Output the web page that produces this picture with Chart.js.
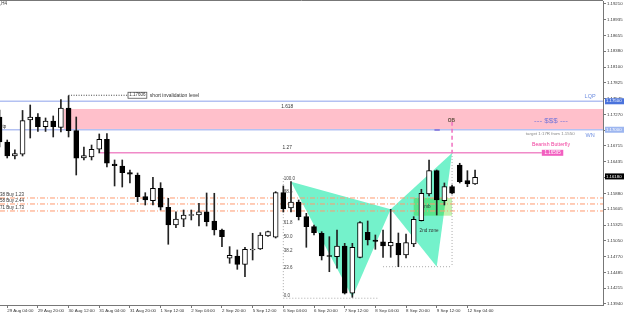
<!DOCTYPE html>
<html>
<head>
<meta charset="utf-8">
<title>H4 Bearish Butterfly</title>
<script src="https://cdn.jsdelivr.net/npm/chart.js@4.4.1/dist/chart.umd.min.js"></script>
<style>
  html, body { margin: 0; padding: 0; background: #fff; }
  canvas { display: block; }
</style>
</head>
<body>
<canvas id="priceChart" width="625" height="316"></canvas>
<script>
// H4 bar slots, 0 = 29 Aug 04:00
const slots = [-1, 0, 1, 2, 3, 4, 5, 6, 7, 8, 9, 10, 11, 12, 13, 14, 15, 16, 17, 18, 19, 20,
  21, 22, 23, 24, 25, 26, 27, 28, 29, 30, 31, 32, 33, 34, 35, 36, 37, 38, 39, 40,
  41, 42, 43, 44, 45, 46, 47, 48, 49, 50, 51, 52, 53, 54, 55, 56, 57, 58, 59, 60, 61];

const opens = [1.17224, 1.16785, 1.16539, 1.16569, 1.17172, 1.17224, 1.17054, 1.17154, 1.17040, 1.17382,
  1.16984, 1.16504, 1.16522, 1.16657, 1.16833, 1.16399, 1.16363, 1.16246, 1.16205, 1.15824,
  1.15754, 1.15972, 1.15638, 1.15327, 1.15427, 1.15494, 1.15502, 1.15560, 1.15397, 1.15239,
  1.14742, 1.14782, 1.14636, 1.14888, 1.14905, 1.15134, 1.15111, 1.15894, 1.15625, 1.15731,
  1.15473, 1.15297, 1.15181, 1.14791, 1.14770, 1.14958, 1.14127, 1.14759, 1.15199, 1.15063,
  1.15033, 1.14958, 1.15005, 1.14800, 1.14993, 1.15402, 1.15871, 1.16281, 1.15754, 1.16000,
  1.16381, 1.16105, 1.16047];
const highs = [1.17347, 1.16820, 1.16645, 1.17339, 1.17435, 1.17286, 1.17207, 1.17242, 1.17532, 1.17593,
  1.17224, 1.16697, 1.16732, 1.16926, 1.16934, 1.16469, 1.16469, 1.16293, 1.16240, 1.15894,
  1.16165, 1.16070, 1.15796, 1.15560, 1.15590, 1.15590, 1.15708, 1.15889, 1.15884, 1.15257,
  1.14946, 1.14888, 1.14935, 1.15181, 1.15192, 1.15221, 1.15912, 1.16012, 1.16088, 1.15766,
  1.15532, 1.15327, 1.15209, 1.15121, 1.15239, 1.15005, 1.15005, 1.15385, 1.15397, 1.15151,
  1.15239, 1.15603, 1.15186, 1.15169, 1.15473, 1.15954, 1.16469, 1.16293, 1.16065, 1.16030,
  1.16411, 1.16281, 1.16293];
const lows = [1.16697, 1.16504, 1.16486, 1.16539, 1.16855, 1.16970, 1.16970, 1.16873, 1.16961, 1.16873,
  1.16205, 1.16469, 1.16469, 1.16592, 1.16346, 1.16012, 1.15994, 1.16065, 1.15736, 1.15678,
  1.15678, 1.15590, 1.14988, 1.15279, 1.15297, 1.15415, 1.15309, 1.15309, 1.15151, 1.14946,
  1.14654, 1.14548, 1.14418, 1.14712, 1.14896, 1.15125, 1.15098, 1.15555, 1.15555, 1.15415,
  1.14935, 1.15151, 1.14712, 1.14506, 1.14566, 1.14114, 1.14056, 1.14747, 1.14975, 1.14900,
  1.14759, 1.14759, 1.14594, 1.14747, 1.14946, 1.15397, 1.15836, 1.15502, 1.15678, 1.15871,
  1.16065, 1.16000, 1.16038];
const closes = [1.16785, 1.16539, 1.16583, 1.17159, 1.17224, 1.17054, 1.17154, 1.17054, 1.17382, 1.16984,
  1.16499, 1.16548, 1.16657, 1.16833, 1.16411, 1.16369, 1.16246, 1.16218, 1.15824, 1.15766,
  1.15972, 1.15638, 1.15327, 1.15432, 1.15502, 1.15511, 1.15560, 1.15385, 1.15239, 1.15121,
  1.14794, 1.14636, 1.14900, 1.14905, 1.15151, 1.15209, 1.15894, 1.15608, 1.15731, 1.15473,
  1.15297, 1.15192, 1.14782, 1.14773, 1.14958, 1.14127, 1.14935, 1.15367, 1.15063, 1.15040,
  1.14958, 1.15023, 1.14800, 1.15016, 1.15427, 1.15884, 1.16281, 1.15766, 1.16000, 1.15884,
  1.16088, 1.16047, 1.16165];

const timeTickSlots = [0, 4, 8, 12, 16, 20, 24, 28, 32, 36, 40, 44, 48, 52, 56, 60];
const timeTickLabels = ['29 Aug 04:00', '29 Aug 20:00', '30 Aug 12:00', '31 Aug 04:00', '31 Aug 20:00',
  '1 Sep 12:00', '2 Sep 04:00', '2 Sep 20:00', '5 Sep 12:00', '6 Sep 04:00', '6 Sep 20:00',
  '7 Sep 12:00', '8 Sep 04:00', '8 Sep 20:00', '9 Sep 12:00', '12 Sep 04:00'];

const priceTicks = [1.19210, 1.18935, 1.18655, 1.18380, 1.18100, 1.17825, 1.17545, 1.17270, 1.16990,
  1.16715, 1.16435, 1.16155, 1.15880, 1.15605, 1.15325, 1.15050, 1.14770, 1.14485, 1.14215, 1.13940];

// levels drawn on the chart
const lqpLevel = 1.17500;
const wnLevel = 1.17000;
const lastPrice = 1.16180;
const invalidationLevel = 1.17606;
const targetLevel = 1.16595;
const buyLevels = [1.15801, 1.15696, 1.15573];
const buyLabels = ['38 Buy 1.23', '58 Buy 2.44', '71 Buy 1.73'];
const fibRatios = [100.0, 88.6, 61.8, 50.0, 38.2, 23.6, 0.0];

const FONT = 'Liberation Sans';

const wickData = slots.map((s, i) => ({ x: s, y: [lows[i], highs[i]] }));
const bodyData = slots.map((s, i) => ({ x: s, y: [opens[i], closes[i]] }));
const bodyColors = slots.map((s, i) => closes[i] >= opens[i] ? '#ffffff' : '#000000');

function line(ctx, x0, y0, x1, y1, color, width, dash) {
    ctx.save();
    ctx.strokeStyle = color;
    ctx.lineWidth = width;
    ctx.setLineDash(dash || []);
    ctx.beginPath();
    ctx.moveTo(x0, y0);
    ctx.lineTo(x1, y1);
    ctx.stroke();
    ctx.restore();
}

function label(ctx, str, xx, yy, color, size, align, bold) {
    ctx.save();
    ctx.fillStyle = color;
    ctx.font = (bold ? 'bold ' : '') + size + 'px "' + FONT + '"';
    ctx.textAlign = align || 'center';
    ctx.textBaseline = 'middle';
    ctx.fillText(str, xx, yy);
    ctx.restore();
}

const overlay = {
    id: 'overlay',
    beforeDatasetsDraw(chart) {
        const { ctx, chartArea: a, scales: { x, y } } = chart;
        const X = v => x.getPixelForValue(v);
        const Y = v => y.getPixelForValue(v);
        ctx.save();
        ctx.beginPath();
        ctx.rect(a.left, a.top, a.width, a.height);
        ctx.clip();

        // supply zone
        ctx.fillStyle = '#ffc0cb';
        ctx.fillRect(X(7.4), Y(1.17365), a.right - X(7.4), Y(1.17014) - Y(1.17365));

        // butterfly legs X-A-B and B-C-D
        ctx.fillStyle = '#74f2cb';
        ctx.beginPath();
        ctx.moveTo(X(37), Y(1.16088));
        ctx.lineTo(X(45), Y(1.14056));
        ctx.lineTo(X(50), Y(1.15603));
        ctx.closePath();
        ctx.fill();
        ctx.beginPath();
        ctx.moveTo(X(50), Y(1.15603));
        ctx.lineTo(X(56), Y(1.14594));
        ctx.lineTo(X(58), Y(1.16592));
        ctx.closePath();
        ctx.fill();

        // imbalance box
        ctx.save();
        ctx.globalCompositeOperation = 'multiply';
        ctx.fillStyle = '#c3f3b0';
        ctx.fillRect(X(53.0), Y(1.15801), X(58.0) - X(53.0), Y(1.15490) - Y(1.15801));
        ctx.restore();

        // LQP / WN lines
        line(ctx, a.left, Y(lqpLevel), a.right, Y(lqpLevel), '#b3c1f2', 1.5);
        line(ctx, a.left, Y(wnLevel), a.right, Y(wnLevel), '#b3c1f2', 1.5);

        // 1.27 target line
        line(ctx, X(12.1), Y(targetLevel), X(69.7), Y(targetLevel), '#f08ac8', 1.5);

        // buy levels
        buyLevels.forEach(v => line(ctx, a.left, Y(v), a.right, Y(v), '#ff9a70', 1, [5, 2, 1, 2]));

        // fib grid
        const fibTop = 1.16100, fibBottom = 1.14040;
        line(ctx, X(36), Y(1.16150), X(36), Y(fibBottom), '#aaa', 1, [1, 2]);
        line(ctx, X(36), Y(fibBottom), X(48.4), Y(fibBottom), '#aaa', 1, [1, 2]);
        line(ctx, X(49), Y(1.14594), X(58), Y(1.14594), '#aaa', 1, [1, 2]);
        line(ctx, X(58), Y(1.16592), X(58), Y(1.14594), '#aaa', 1, [1, 2]);

        // short invalidation
        line(ctx, X(8), Y(invalidationLevel), X(15.75), Y(invalidationLevel), '#444', 1, [1, 1.5]);
        line(ctx, X(8), Y(invalidationLevel), X(8), Y(1.17400), '#444', 1, [1, 1.5]);

        // OB marker
        line(ctx, X(58), Y(1.17140), X(58), Y(targetLevel), '#f070c0', 1.5, [4, 3]);
        line(ctx, X(55.7), Y(1.16996), X(56.4), Y(1.16996), '#7b6bd8', 1.5);

        ctx.restore();

        chart._fib = { fibTop, fibBottom };
    },
    afterDatasetsDraw(chart) {
        const { ctx, chartArea: a, scales: { x, y } } = chart;
        const X = v => x.getPixelForValue(v);
        const Y = v => y.getPixelForValue(v);
        ctx.save();
        ctx.beginPath();
        ctx.rect(a.left, 0, a.width, a.bottom);
        ctx.clip();

        label(ctx, ',H4', 0, 4, '#333', 4.5, 'left');
        label(ctx, 'tp', 2.5, 127, '#222', 4.5, 'left');

        label(ctx, '1.618', X(36.5), Y(1.17400), '#333', 4.8);
        label(ctx, '1.27', X(36.5), Y(1.16680), '#333', 4.8);

        buyLabels.forEach((t, i) => label(ctx, t, 0, Y(buyLevels[i]) - 3, '#333', 4.5, 'left'));

        const { fibTop, fibBottom } = chart._fib;
        fibRatios.forEach(r => {
            const v = fibBottom + (fibTop - fibBottom) * r / 100;
            label(ctx, r === 0 ? '0.0' : r.toFixed(1), X(36) + 0.5, Y(v) - 2.5, '#444', 4.5, 'left');
        });

        // short invalidation box
        const bx = X(15.75), bw = X(18.2) - X(15.75), by = Y(invalidationLevel);
        ctx.fillStyle = '#fff';
        ctx.fillRect(bx, by - 3, bw, 6);
        ctx.strokeStyle = '#555';
        ctx.lineWidth = 0.8;
        ctx.strokeRect(bx, by - 3, bw, 6);
        label(ctx, invalidationLevel.toFixed(5), bx + bw / 2, by, '#333', 4.5);
        label(ctx, 'short invalidation level', X(18.6), by, '#333', 5, 'left');

        // target box
        const tx = X(69.7), tw = X(72.5) - X(69.7), ty = Y(targetLevel);
        ctx.fillStyle = '#f25fc0';
        ctx.fillRect(tx, ty - 3, tw, 6);
        label(ctx, targetLevel.toFixed(5), tx + tw / 2, ty, '#fff', 4.5);

        label(ctx, 'Bearish Butterfly', X(70.9), Y(1.16732), '#f0409e', 5.2);
        label(ctx, '--- $$$ ---', X(70.9), Y(1.17154), '#7676d8', 8);
        label(ctx, 'target 1:17R from 1.1550', X(70.8), Y(1.16926), '#888', 4.4);
        label(ctx, 'LQP', X(76.0), Y(1.17576), '#6f8fe0', 5.5);
        label(ctx, 'WN', X(76.0), Y(1.16908), '#6f8fe0', 5.5);
        label(ctx, 'OB', X(57.9), Y(1.17154), '#5a4a3a', 4.8, 'center', true);
        label(ctx, 'Imb', X(54.7), Y(1.15643), '#333', 4.6);
        label(ctx, '2nd zone', X(55.0), Y(1.15221), '#333', 4.6);

        ctx.restore();
    },
    afterDraw(chart) {
        const { ctx, chartArea: a, scales: { y } } = chart;
        line(ctx, a.left, a.top - 0.5, a.right, a.top - 0.5, '#777', 1);
        const tags = [
            { v: lqpLevel, bg: '#4a73dc', fg: '#fff' },
            { v: wnLevel, bg: '#9db6f0', fg: '#fff' },
            { v: lastPrice, bg: '#000', fg: '#fff' }
        ];
        tags.forEach(t => {
            const yy = y.getPixelForValue(t.v);
            ctx.fillStyle = t.bg;
            ctx.fillRect(a.right + 2, yy - 3, 19, 6);
            label(ctx, t.v.toFixed(5), a.right + 3, yy, t.fg, 4.3, 'left');
        });
    }
};

const ctx = document.getElementById('priceChart').getContext('2d');
const priceChart = new Chart(ctx, {
    type: 'bar',
    data: {
        datasets: [
            {
                label: 'wick',
                data: wickData,
                backgroundColor: '#222',
                barThickness: 1,
                grouped: false,
                order: 2
            },
            {
                label: 'body',
                data: bodyData,
                backgroundColor: bodyColors,
                borderColor: '#000',
                borderWidth: 1,
                borderSkipped: false,
                barThickness: 5,
                grouped: false,
                order: 1
            }
        ]
    },
    options: {
        responsive: false,
        animation: false,
        layout: { padding: { top: 1, left: 0, right: 0, bottom: 0 } },
        plugins: {
            legend: { display: false },
            tooltip: { enabled: false }
        },
        scales: {
            x: {
                type: 'linear',
                min: -0.94,
                max: 77.68,
                offset: false,
                grid: { display: true, drawOnChartArea: false, drawTicks: true, tickLength: 3, color: '#777', offset: false },
                border: { display: true, color: '#777' },
                ticks: {
                    autoSkip: false,
                    maxRotation: 0,
                    align: 'start',
                    padding: 0,
                    color: '#333',
                    font: { family: FONT, size: 4.4 },
                    callback: v => {
                        const i = timeTickSlots.indexOf(v);
                        return i >= 0 ? timeTickLabels[i] : '';
                    }
                },
                afterBuildTicks: s => { s.ticks = timeTickSlots.map(v => ({ value: v })); },
                afterFit: s => { s.height = 11; s.paddingLeft = 0; s.paddingRight = 0; }
            },
            y: {
                position: 'right',
                min: 1.13921,
                max: 1.19262,
                grid: { display: true, drawOnChartArea: false, drawTicks: true, tickLength: 3, color: '#777' },
                border: { display: true, color: '#777' },
                ticks: {
                    padding: 1,
                    color: '#333',
                    font: { family: FONT, size: 4.3 },
                    callback: v => Number(v).toFixed(5)
                },
                afterBuildTicks: s => { s.ticks = priceTicks.map(v => ({ value: v })); },
                afterFit: s => { s.width = 22; s.paddingTop = 0; s.paddingBottom = 0; }
            }
        }
    },
    plugins: [overlay]
});
</script>
</body>
</html>
